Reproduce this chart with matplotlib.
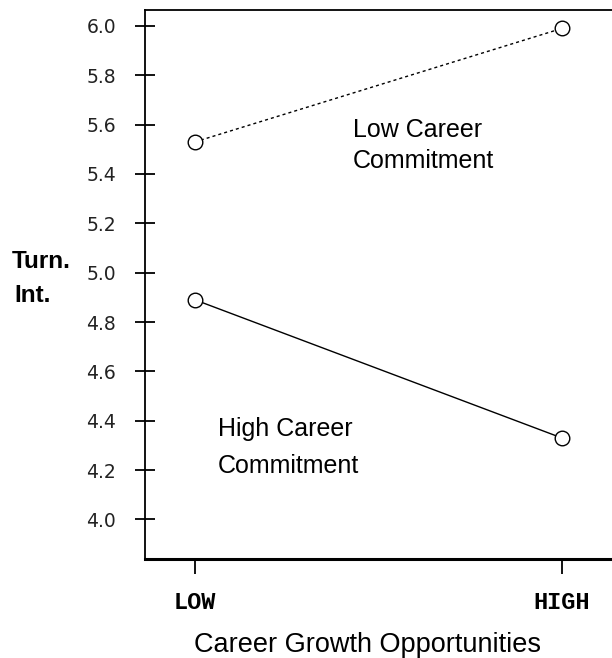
import numpy as np
import matplotlib.pyplot as plt

# ---------------- DATA ----------------
growth_levels = ["LOW", "HIGH"]
low_commitment = [5.53, 5.99]
high_commitment = [4.89, 4.33]
y_ticks = [4.0, 4.2, 4.4, 4.6, 4.8, 5.0, 5.2, 5.4, 5.6, 5.8, 6.0]

W, H = 612, 658


def fx(px):
    return px / W


def fy(py):
    return 1 - py / H


# ---------------- PLOT ----------------
fig = plt.figure(figsize=(W / 100, H / 100), dpi=100)
ax = fig.add_axes([0.237, 0.1505, 0.763, 0.8345])

x = np.arange(len(growth_levels))
ax.plot(x, low_commitment, color="black", lw=1.0, ls=(0, (2.2, 2.2)),
        marker="o", ms=10.5, mfc="white", mec="black", mew=1.0, zorder=3)
ax.plot(x, high_commitment, color="black", lw=1.0, ls="-",
        marker="o", ms=10.5, mfc="white", mec="black", mew=1.0, zorder=3)

ax.set_xlim(-0.136, 1.136)
ax.set_ylim(3.84, 6.065)

ax.set_yticks(y_ticks)
ax.set_yticklabels([f"{v:.1f}" for v in y_ticks], fontsize=13.5,
                   family="DejaVu Sans", color="#222222")
ax.tick_params(axis="y", direction="inout", length=14, width=1.3, pad=14)

ax.set_xticks(x)
ax.set_xticklabels(growth_levels, fontsize=17, family="Liberation Mono",
                   fontweight="bold")
ax.tick_params(axis="x", direction="out", length=11, width=1.3, pad=12)

ax.spines["right"].set_visible(False)
for s in ["left", "top"]:
    ax.spines[s].set_linewidth(1.3)
ax.spines["bottom"].set_linewidth(2.2)

# series labels
ax_font = dict(fontsize=18, family="Liberation Sans", va="baseline", ha="left")
fig.text(fx(353), fy(137), "Low Career", **ax_font)
fig.text(fx(353), fy(168), "Commitment", **ax_font)
fig.text(fx(218), fy(436), "High Career", **ax_font)
fig.text(fx(218), fy(473), "Commitment", **ax_font)

# axis titles
fig.text(fx(12), fy(268), "Turn.", fontsize=17.5, fontweight="bold",
         family="Liberation Sans", ha="left", va="baseline")
fig.text(fx(14), fy(302), "Int.", fontsize=17.5, fontweight="bold",
         family="Liberation Sans", ha="left", va="baseline")
fig.text(fx(368), fy(652), "Career Growth Opportunities", fontsize=19.5,
         family="Liberation Sans", ha="center", va="baseline")

fig.savefig("out.png", dpi=100)
